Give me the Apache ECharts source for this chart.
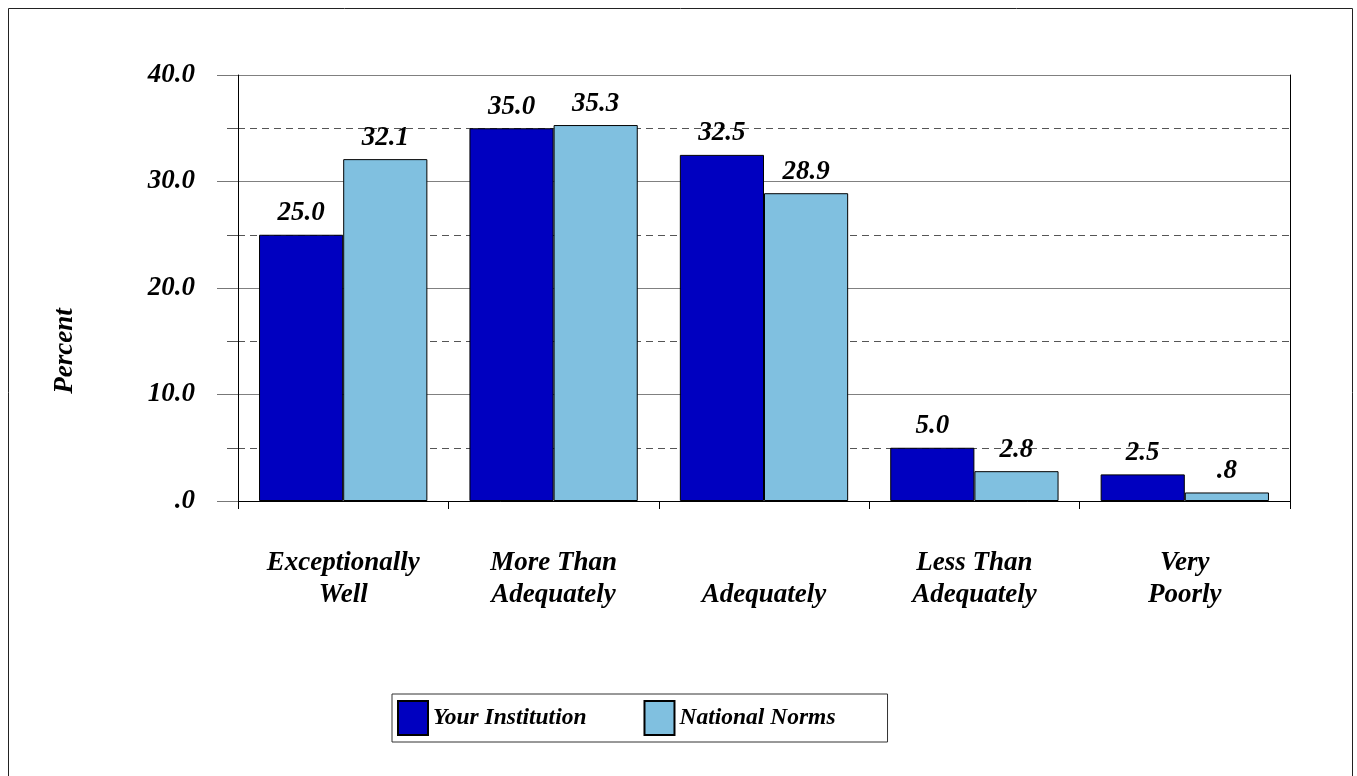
<!DOCTYPE html>
<html>
<head>
<meta charset="utf-8">
<title>Percent by rating</title>
<script src="https://cdn.jsdelivr.net/npm/echarts@6/dist/echarts.min.js"></script>
<style>
  html, body { margin: 0; padding: 0; background: #fff; }
  #chart { width: 1357px; height: 776px; }
</style>
</head>
<body>
<div id="chart"></div>
<script>
// 数据
const categories = ['Exceptionally\nWell', 'More Than\nAdequately', 'Adequately', 'Less Than\nAdequately', 'Very\nPoorly'];
const yourInstitution = [25.0, 35.0, 32.5, 5.0, 2.5];
const nationalNorms = [32.1, 35.3, 28.9, 2.8, 0.8];
const seriesNames = ['Your Institution', 'National Norms'];

const FONT = "'Liberation Serif', 'Times New Roman', serif";

// 去掉前导0, 例如 0.8 -> .8
const fmt = (v) => {
  const s = Number(v).toFixed(1);
  return s.startsWith('0') ? s.slice(1) : s;
};

const textBase = {
  fontFamily: FONT,
  fontStyle: 'italic',
  fontWeight: 'bold',
  fontSize: 27,
  color: '#000',
};

const chart = echarts.init(document.getElementById('chart'));

const labelOpt = {
  show: true,
  position: 'top',
  distance: 8,
  formatter: (p) => fmt(p.value),
  ...textBase,
};

chart.setOption({
  animation: false,
  backgroundColor: '#fff',
  grid: { left: 238, right: 67, top: 75, bottom: 275 },
  graphic: [
    {
      type: 'rect',
      shape: { x: 8.5, y: 8.5, width: 1344, height: 780 },
      style: { fill: 'none', stroke: '#222', lineWidth: 1 },
      silent: true,
    },
    {
      type: 'text',
      x: 65,
      y: 351,
      rotation: Math.PI / 2,
      style: {
        text: 'Percent',
        ...textBase,
        fill: '#000',
        align: 'center',
        verticalAlign: 'middle',
      },
    },
  ],
  legend: {
    left: 392,
    top: 694,
    padding: [6, 52, 6, 5],
    icon: 'rect',
    itemWidth: 30,
    itemHeight: 34,
    itemGap: 57,
    borderColor: '#333',
    borderWidth: 1,
    textStyle: { ...textBase, fontSize: 23.5 },
    data: seriesNames,
  },
  xAxis: {
    type: 'category',
    data: categories,
    axisLine: { lineStyle: { color: '#000', width: 1 } },
    axisTick: { show: true, length: 8, lineStyle: { color: '#000' } },
    axisLabel: {
      ...textBase,
      interval: 0,
      margin: 110,
      verticalAlign: 'bottom',
      lineHeight: 32,
    },
  },
  yAxis: [
    {
      type: 'value',
      min: 0,
      max: 40,
      interval: 10,
      axisLine: { show: true, lineStyle: { color: '#000', width: 1 } },
      axisTick: { show: true, length: 21, lineStyle: { color: '#777' } },
      minorTick: { show: true, splitNumber: 2, length: 11, lineStyle: { color: '#555' } },
      splitLine: { show: true, lineStyle: { color: '#808080', width: 1 } },
      minorSplitLine: { show: true, lineStyle: { color: '#555', type: [7, 5], width: 1 } },
      axisLabel: {
        ...textBase,
        margin: 43,
        formatter: (v) => fmt(v),
      },
    },
    {
      // 右侧边框
      type: 'value',
      min: 0,
      max: 40,
      interval: 10,
      position: 'right',
      axisLine: { show: true, lineStyle: { color: '#000', width: 1 } },
      axisTick: { show: false },
      axisLabel: { show: false },
      splitLine: { show: false },
    },
  ],
  series: [
    {
      name: seriesNames[0],
      type: 'bar',
      data: yourInstitution,
      barGap: '0%',
      barCategoryGap: '20%',
      itemStyle: { color: '#0000C0', borderColor: '#000', borderWidth: 1 },
      label: labelOpt,
    },
    {
      name: seriesNames[1],
      type: 'bar',
      data: nationalNorms,
      barGap: '0%',
      barCategoryGap: '20%',
      itemStyle: { color: '#80C0E0', borderColor: '#000', borderWidth: 1 },
      label: labelOpt,
    },
  ],
});
</script>
</body>
</html>
